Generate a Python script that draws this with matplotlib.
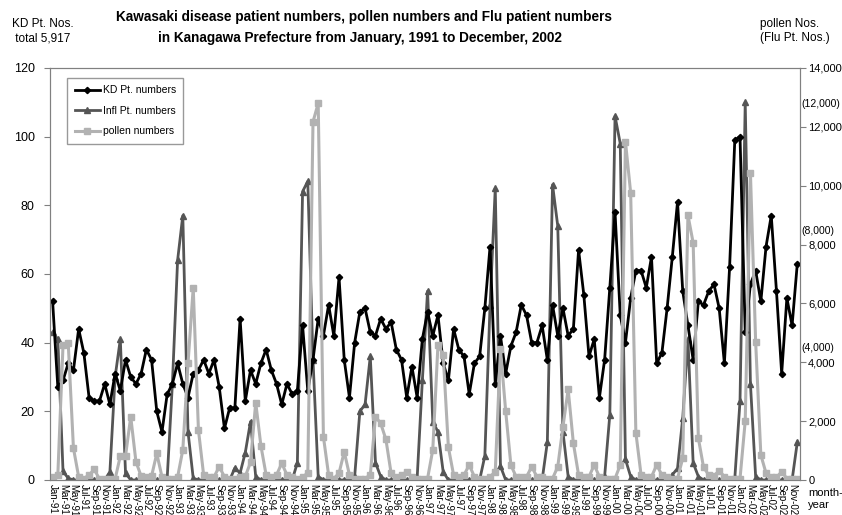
import matplotlib
matplotlib.use("Agg")
import matplotlib.pyplot as plt
import numpy as np
from matplotlib.ticker import FuncFormatter

plt.rcParams['font.family'] = ['Liberation Sans', 'DejaVu Sans']

MONTHS = ['Jan', 'Feb', 'Mar', 'Apr', 'May', 'Jun',
          'Jul', 'Aug', 'Sep', 'Oct', 'Nov', 'Dec']
YEARS = list(range(91, 100)) + [0, 1, 2]
month_labels = [f"{m}-{y:02d}" for y in YEARS for m in MONTHS]

# Kawasaki disease patients per month, Jan-91 .. Dec-02
kd_patients = [
    52, 27, 29, 34, 32, 44, 37, 24, 23, 23, 28, 22,
    31, 26, 35, 30, 28, 31, 38, 35, 20, 14, 25, 28,
    34, 28, 24, 31, 32, 35, 31, 35, 27, 15, 21, 21,
    47, 23, 32, 28, 34, 38, 32, 28, 22, 28, 25, 26,
    45, 26, 35, 47, 42, 51, 42, 59, 35, 24, 40, 49,
    50, 43, 42, 47, 44, 46, 38, 35, 24, 33, 24, 41,
    49, 42, 48, 34, 29, 44, 38, 36, 25, 34, 36, 50,
    68, 28, 42, 31, 39, 43, 51, 48, 40, 40, 45, 35,
    51, 42, 50, 42, 44, 67, 54, 36, 41, 24, 35, 56,
    78, 48, 40, 53, 61, 61, 56, 65, 34, 37, 50, 65,
    81, 55, 45, 35, 52, 51, 55, 57, 50, 34, 62, 99,
    100, 43, 57, 61, 52, 68, 77, 55, 31, 53, 45, 63,
]

# influenza patients (scaled to the left axis)
flu_patients = [
    43, 41, 2.5, 0.5, 0, 0, 0, 0, 0, 0, 0, 2.4,
    30, 41, 2, 0, 0, 0, 0, 0, 0, 0, 0.5, 28,
    64, 77, 14, 0.5, 0, 0, 0, 0, 0, 0, 0, 3.5,
    2, 8, 17, 1, 0, 0, 0, 0, 0, 0, 0, 5,
    84, 87, 35, 1, 0, 0, 0, 0, 0, 0, 1, 20,
    22, 36, 5, 1, 0, 0, 0, 0, 0, 0, 0.5, 29,
    55, 17, 14, 2.4, 0, 0, 0, 0, 0, 0, 0, 7,
    51, 85, 4, 0, 0, 0, 0, 0, 0, 0, 0, 11,
    86, 74, 14, 1, 0, 0, 0, 0, 0, 0, 1, 19,
    106, 98, 6, 1, 0, 0, 0, 0, 0, 0, 0, 1.5,
    3.4, 18, 41, 5, 1, 0, 0, 0, 0, 0, 0, 0.5,
    23, 110, 28, 1, 0, 0, 0, 0, 0, 0, 0, 11,
]

# pollen counts (right axis)
pollen = [
    100, 170, 4590, 4640, 1080, 110, 50, 170, 360, 30, 30, 30,
    30, 815, 815, 2150, 620, 130, 100, 130, 900, 110, 50, 50,
    100, 1020, 3960, 6530, 1700, 170, 110, 110, 450, 110, 50, 50,
    110, 120, 600, 2630, 1160, 170, 110, 170, 570, 170, 110, 50,
    110, 230, 12170, 12800, 1470, 170, 50, 230, 960, 170, 50, 50,
    50, 170, 2150, 1925, 1380, 230, 110, 170, 280, 110, 50, 50,
    50, 1020, 4600, 4250, 1110, 170, 110, 170, 510, 110, 50, 50,
    110, 280, 4440, 2340, 510, 110, 110, 110, 450, 110, 90, 50,
    50, 450, 1810, 3080, 1250, 170, 110, 110, 510, 110, 50, 50,
    50, 510, 11500, 9760, 1610, 170, 110, 110, 510, 170, 110, 50,
    50, 740, 9000, 8060, 1420, 430, 170, 140, 320, 110, 50, 50,
    50, 2000, 10440, 4700, 850, 230, 110, 90, 280, 50, 50, 50,
]

# bracketed Flu scale labels on the right side (left-axis positions)
flu_marks = [109.5, 72.5, 38.5]
flu_mark_text = ['(12,000)', '(8,000)', '(4,000)']

x = np.arange(len(month_labels))

fig = plt.figure(figsize=(8.42, 5.15), dpi=100)
ax = fig.add_axes([0.0594, 0.068, 0.8906, 0.8])
ax2 = ax.twinx()

ax.plot(x, kd_patients, color='#000000', lw=2, marker='D', ms=3.2,
        label='KD Pt. numbers', zorder=3)
ax.plot(x, flu_patients, color='#555555', lw=2, marker='^', ms=4,
        label='Infl Pt. numbers', zorder=2)
ax2.plot(x, pollen, color='#b2b2b2', lw=2.2, marker='s', ms=4.5,
         label='pollen numbers')

ax.set_xlim(-0.5, len(x) - 0.5)
ax.set_ylim(0, 120)
ax2.set_ylim(0, 14000)
ax.set_yticks(range(0, 121, 20))
ax2.set_yticks(range(0, 14001, 2000))
ax2.yaxis.set_major_formatter(FuncFormatter(lambda v, p: f"{int(v):,}"))

ax.set_xticks(x[::2])
ax.set_xticklabels(month_labels[::2], rotation=-90, fontsize=7)
ax.tick_params(axis='x', length=0, pad=3)
ax.tick_params(axis='y', labelsize=9, length=4, color='#808080', pad=7)
ax2.tick_params(axis='y', labelsize=8, length=4, color='#808080', pad=2)

for a in (ax, ax2):
    for s in a.spines.values():
        s.set_color('#808080')

for v, t in zip(flu_marks, flu_mark_text):
    ax.text(1.002, v, t, transform=ax.get_yaxis_transform(),
            fontsize=7.5, va='center', ha='left', clip_on=False)

h1, l1 = ax.get_legend_handles_labels()
h2, l2 = ax2.get_legend_handles_labels()
leg = ax2.legend(h1 + h2, l1 + l2, loc='upper left', bbox_to_anchor=(0.016, 0.988),
                 fontsize=7.5, frameon=True, fancybox=False, edgecolor='#808080',
                 handlelength=2.4, labelspacing=1.0, borderpad=0.7, handletextpad=0.3)

fig.text(0.432, 0.967, 'Kawasaki disease patient numbers, pollen numbers and Flu patient numbers',
         ha='center', va='center', fontsize=9.8, fontweight='bold')
fig.text(0.428, 0.926, 'in Kanagawa Prefecture from January, 1991 to December, 2002',
         ha='center', va='center', fontsize=9.8, fontweight='bold')
fig.text(0.014, 0.94, 'KD Pt. Nos.\n total 5,917', fontsize=8.5, va='center', linespacing=1.25)
fig.text(0.903, 0.94, 'pollen Nos.\n(Flu Pt. Nos.)', fontsize=8.5, va='center', linespacing=1.25)
fig.text(0.96, 0.052, 'month-\nyear', fontsize=8, va='top', linespacing=1.2)

fig.savefig('out.png', dpi=100)
